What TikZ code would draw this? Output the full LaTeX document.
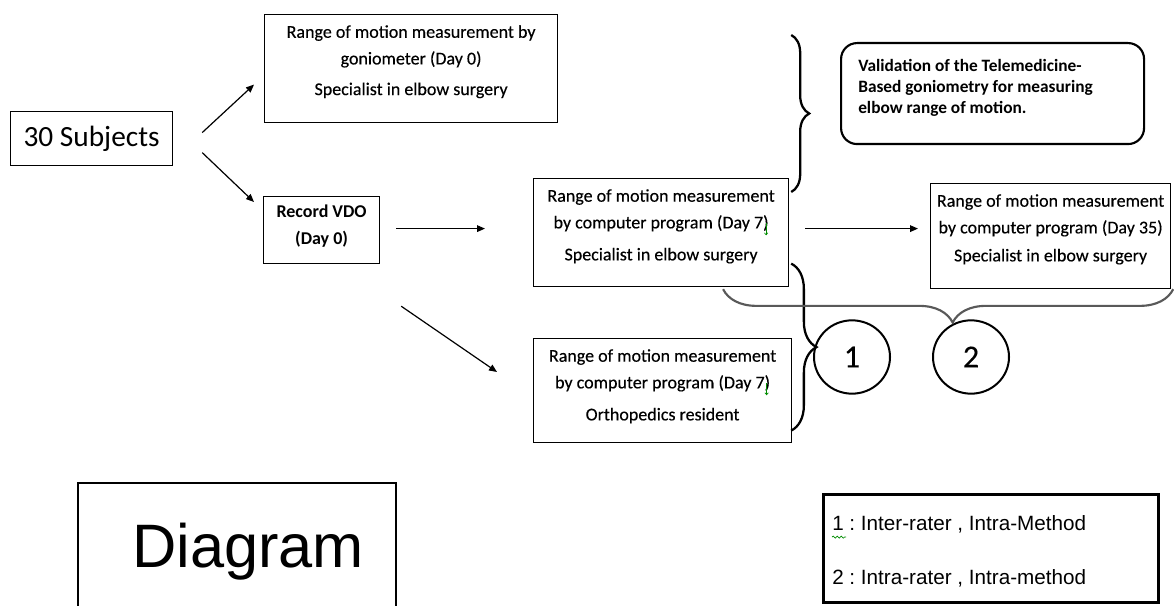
\documentclass[tikz,border=0pt]{standalone}
\usepackage{fontspec}
\setmainfont{Carlito}
\newfontfamily\boxf[FakeBold=0.3]{Carlito}
\newfontfamily\arialf{Liberation Sans}
\usetikzlibrary{shapes.geometric,decorations.pathreplacing,decorations.pathmorphing,arrows.meta,calc}
\frenchspacing
\begin{document}
\begin{tikzpicture}[x=0.75pt,y=-0.75pt,
  box/.style={draw, line width=0.9pt, anchor=north west, inner sep=0pt},
  txt/.style={anchor=north, inner sep=0pt, align=center, font=\boxf\fontsize{13.5}{20}\selectfont},
  arr/.style={-{Triangle[length=6pt,width=5pt]}, line width=0.9pt},
  brc/.style={decorate, line width=1.7pt},
  circ/.style={draw, ellipse, line width=1.5pt, minimum width=57pt, minimum height=55pt, inner sep=0pt, font=\boxf\fontsize{24}{26}\selectfont},
  spell/.style={draw=green!55!black, line width=0.5pt}]
\useasboundingbox (0,0) rectangle (1174,606);
% nodes
\node[box, minimum width={162*0.75pt}, minimum height={54*0.75pt}, font=\fontsize{22}{26}\selectfont] (subj) at (10,111) {30 Subjects};
\node[box, minimum width={293*0.75pt}, minimum height={108*0.75pt}] (gonio) at (264,14) {};
\node[txt] (goniot) at ($(gonio.north)+(0,11)$) {Range of motion measurement by\\goniometer (Day 0)\\[3pt]Specialist in elbow surgery};
\node[box, minimum width={116*0.75pt}, minimum height={67*0.75pt}] (rec) at (263,196) {};
\node[txt, font=\bfseries\fontsize{13.5}{20}\selectfont] (rect) at ($(rec.north)+(0,9)$) {Record VDO\\(Day 0)};
\node[box, minimum width={255*0.75pt}, minimum height={108*0.75pt}] (mid) at (533,178) {};
\node[txt] (midt) at ($(mid.north)+(0,11)$) {Range of motion measurement\\by computer program (Day 7)\\[4pt]Specialist in elbow surgery};
\node[box, minimum width={240*0.75pt}, minimum height={105*0.75pt}] (d35) at (930,183) {};
\node[txt] (d35t) at ($(d35.north)+(0,11)$) {Range of motion measurement\\by computer program (Day 35)\\[1pt]Specialist in elbow surgery};
\node[box, minimum width={258*0.75pt}, minimum height={104*0.75pt}] (low) at (533,338) {};
\node[txt] (lowt) at ($(low.north)+(0,11)$) {Range of motion measurement\\by computer program (Day 7)\\[4pt]Orthopedics resident};
\node[box, draw, line width=1.6pt, rounded corners=12pt, minimum width={303*0.75pt}, minimum height={101*0.75pt}] (valid) at (840,42) {};
\node[anchor=north west, inner sep=0pt, align=left, font=\bfseries\fontsize{13}{15.75}\selectfont] (validt) at ($(valid.north west)+(18,17)$) {Validation of the Telemedicine-\\Based goniometry for measuring\\elbow range of motion.};
\node[circ] (c1) at (852,357) {1};
\node[circ] (c2) at (971,357) {2};
\node[box, line width=1.8pt, minimum width={318*0.75pt}, minimum height={140*0.75pt}] (diag) at (77,482) {};
\node[font=\arialf\fontsize{46}{50}\selectfont, inner sep=0pt, anchor=base] (diagt) at (248,567) {Diagram};
\node[box, line width=2pt, minimum width={335*0.75pt}, minimum height={108*0.75pt}] (leg) at (822,493) {};
\node[anchor=west, inner sep=0pt, font=\arialf\fontsize{15.5}{16}\selectfont] (leg1) at ($(leg.north west)+(10,31)$) {1 : Inter-rater , Intra-Method};
\node[anchor=west, inner sep=0pt, font=\arialf\fontsize{15.5}{16}\selectfont] (leg2) at ($(leg.north west)+(10,85)$) {2 : Intra-rater , Intra-method};
% spelling marks
\draw[spell, decorate, decoration={snake, amplitude=0.8pt, segment length=3pt}] ($(leg1.south west)+(0,4)$) -- ++(14,0);
\draw[spell, -{Straight Barb[length=1.5pt,width=2.5pt]}] ($(midt.center)+(105,-3)$) -- ++(0,12);
\draw[spell, -{Straight Barb[length=1.5pt,width=2.5pt]}] ($(lowt.center)+(104,-3)$) -- ++(0,12);
% connectors
\draw[arr] ($(subj.east)+(29,-6)$) -- ($(gonio.west)+(-10,16)$);
\draw[arr] ($(subj.east)+(29,14)$) -- ($(rec.north west)+(-9,6)$);
\draw[arr] ($(rec.east)+(16,-1.5)$) -- ($(mid.west)+(-48,-4)$);
\draw[arr] ($(mid.east)+(16,-4)$) -- ($(d35.west)+(-12,-7.5)$);
\draw[arr] ($(rec.south east)+(21,42)$) -- ($(low.north west)+(-36,34)$);
% braces
\draw[brc, decoration={brace, amplitude=13.5pt}] ($(mid.north east)+(2,-143)$) -- ($(mid.north east)+(2,14)$);
\draw[brc, decoration={brace, amplitude=19pt}] ($(mid.east)+(2,31)$) -- ($(low.east)+(-1,40)$);
\draw[brc, draw=black!65, line width=1.6pt, decoration={brace, amplitude=25pt, aspect=0.49}] ($(d35.south east)+(2,0)$) -- ($(mid.south)+(62,2)$);
\end{tikzpicture}
\end{document}
